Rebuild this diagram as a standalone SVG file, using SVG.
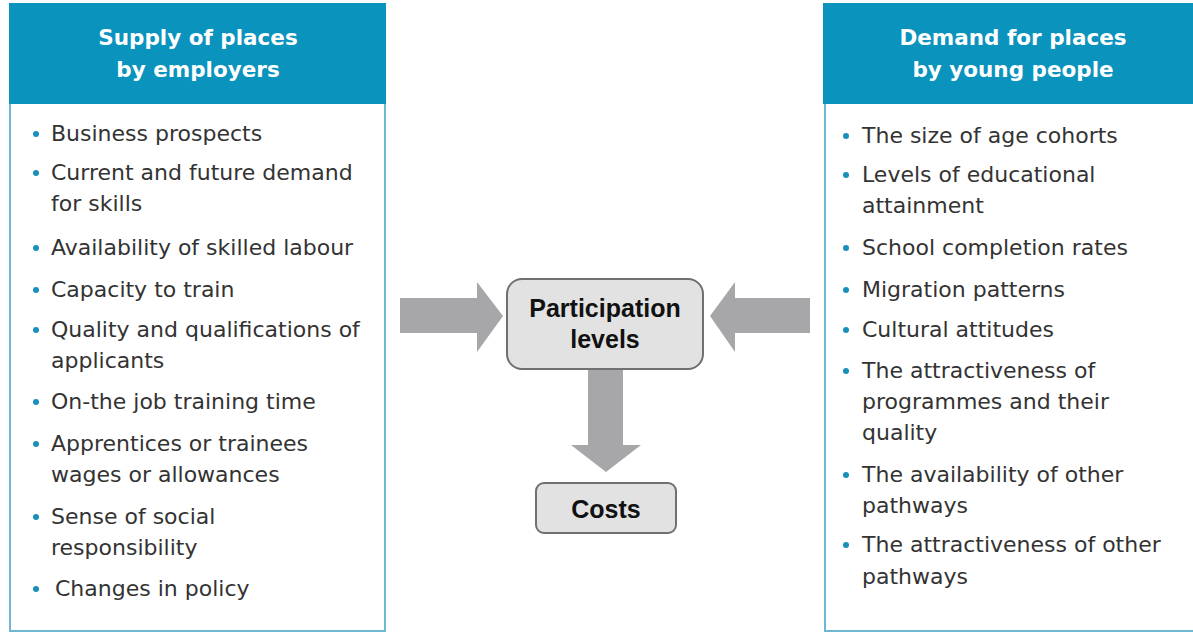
<svg xmlns="http://www.w3.org/2000/svg" width="1193" height="633" viewBox="0 0 1193 633">
  <defs>
    <style>
      .hdr { fill: #0a93bd; }
      .panel { fill: #ffffff; stroke: #6fb7d3; stroke-width: 2; }
      .htxt { font-family: "DejaVu Sans", "Liberation Sans", sans-serif; font-weight: bold; font-size: 21.5px; fill: #ffffff; text-anchor: middle; }
      .item { font-family: "DejaVu Sans", "Liberation Sans", sans-serif; font-size: 22px; fill: #333333; }
      .dot { fill: #1a8fba; }
      .box { fill: #e2e2e2; stroke: #707070; stroke-width: 2; }
      .btxt { font-family: "Liberation Sans", Arial, sans-serif; font-weight: bold; font-size: 25px; fill: #111111; text-anchor: middle; }
      .arrow { fill: #a7a7a9; }
    </style>
  </defs>
  <rect width="1193" height="633" fill="#ffffff"/>

  <!-- Supply side panel -->
  <g id="supply">
    <rect class="panel" x="10" y="60" width="375" height="571"/>
    <rect class="hdr" x="9" y="3" width="377" height="101"/>
    <text class="htxt" x="198" y="45">Supply of places</text>
    <text class="htxt" x="198" y="77">by employers</text>
    <g class="item">
      <text x="51" y="141">Business prospects</text>
      <text x="51" y="180">Current and future demand</text>
      <text x="51" y="211">for skills</text>
      <text x="51" y="255">Availability of skilled labour</text>
      <text x="51" y="297">Capacity to train</text>
      <text x="51" y="337">Quality and qualifications of</text>
      <text x="51" y="368">applicants</text>
      <text x="51" y="409">On-the job training time</text>
      <text x="51" y="451">Apprentices or trainees</text>
      <text x="51" y="482">wages or allowances</text>
      <text x="51" y="524">Sense of social</text>
      <text x="51" y="555">responsibility</text>
      <text x="55" y="596">Changes in policy</text>
    </g>
    <g class="dot">
      <circle cx="36" cy="134" r="3"/>
      <circle cx="36" cy="173" r="3"/>
      <circle cx="36" cy="248" r="3"/>
      <circle cx="36" cy="290" r="3"/>
      <circle cx="36" cy="330" r="3"/>
      <circle cx="36" cy="402" r="3"/>
      <circle cx="36" cy="444" r="3"/>
      <circle cx="36" cy="517" r="3"/>
      <circle cx="36" cy="589" r="3"/>
    </g>
  </g>

  <!-- Demand side panel -->
  <g id="demand">
    <rect class="panel" x="825" y="60" width="380" height="571"/>
    <rect class="hdr" x="823" y="3" width="372" height="101"/>
    <text class="htxt" x="1013" y="45">Demand for places</text>
    <text class="htxt" x="1013" y="77">by young people</text>
    <g class="item">
      <text x="862" y="143">The size of age cohorts</text>
      <text x="862" y="182">Levels of educational</text>
      <text x="862" y="213">attainment</text>
      <text x="862" y="255">School completion rates</text>
      <text x="862" y="297">Migration patterns</text>
      <text x="862" y="337">Cultural attitudes</text>
      <text x="862" y="378">The attractiveness of</text>
      <text x="862" y="409">programmes and their</text>
      <text x="862" y="440">quality</text>
      <text x="862" y="482">The availability of other</text>
      <text x="862" y="513">pathways</text>
      <text x="862" y="552">The attractiveness of other</text>
      <text x="862" y="584">pathways</text>
    </g>
    <g class="dot">
      <circle cx="846" cy="136" r="3"/>
      <circle cx="846" cy="175" r="3"/>
      <circle cx="846" cy="248" r="3"/>
      <circle cx="846" cy="290" r="3"/>
      <circle cx="846" cy="330" r="3"/>
      <circle cx="846" cy="371" r="3"/>
      <circle cx="846" cy="475" r="3"/>
      <circle cx="846" cy="545" r="3"/>
    </g>
  </g>

  <!-- Block arrows -->
  <g id="connectors">
    <polygon class="arrow" points="400,298 477,298 477,282 503,316 477,352 477,333 400,333"/>
    <polygon class="arrow" points="810,298 735,298 735,282 710,316 735,352 735,333 810,333"/>
    <polygon class="arrow" points="588,369 623,369 623,445 641,445 606,472 571,445 588,445"/>
  </g>

  <g id="participation">
    <rect class="box" x="507" y="279" width="196" height="90" rx="15"/>
    <text class="btxt" x="605" y="317">Participation</text>
    <text class="btxt" x="605" y="348">levels</text>
  </g>

  <g id="costs">
    <rect class="box" x="536" y="483" width="140" height="50" rx="8"/>
    <text class="btxt" x="606" y="518">Costs</text>
  </g>
</svg>
